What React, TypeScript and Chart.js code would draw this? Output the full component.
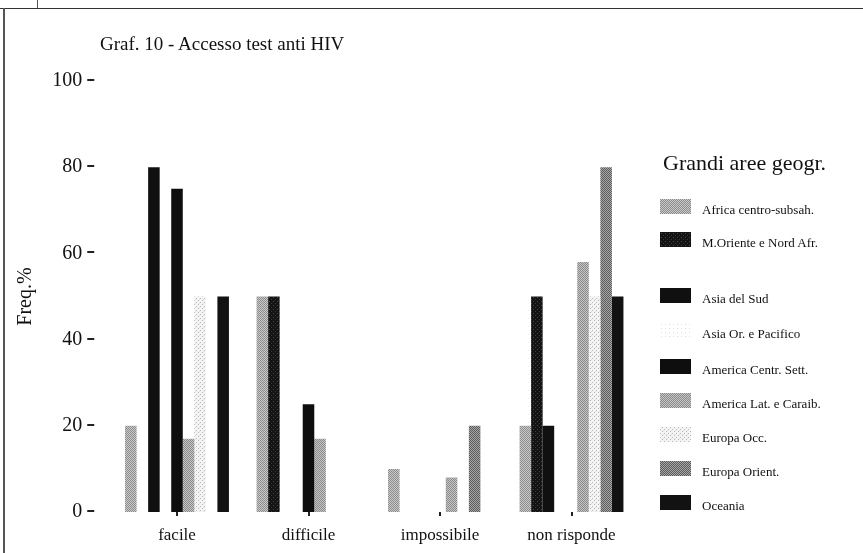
import React, { useEffect, useMemo, useRef } from "react";
import { Chart, registerables } from "chart.js";

Chart.register(...registerables);

const categories = ["facile", "difficile", "impossibile", "non risponde"];
const seriesNames = [
  "Africa centro-subsah.",
  "M.Oriente e Nord Afr.",
  "Asia del Sud",
  "Asia Or. e Pacifico",
  "America Centr. Sett.",
  "America Lat. e Caraib.",
  "Europa Occ.",
  "Europa Orient.",
  "Oceania",
];
const africa = [20, 50, 10, 20];
const mOriente = [0, 50, 0, 50];
const asiaSud = [80, 0, 0, 20];
const asiaOr = [0, 0, 0, 0];
const americaCentr = [75, 25, 0, 0];
const americaLat = [17, 17, 8, 58];
const europaOcc = [50, 0, 0, 50];
const europaOrient = [0, 0, 20, 80];
const oceania = [50, 0, 0, 50];
const seriesData = [africa, mOriente, asiaSud, asiaOr, americaCentr, americaLat, europaOcc, europaOrient, oceania];
const yTicks = [0, 20, 40, 60, 80, 100];

const FONT = "'Liberation Serif', 'DejaVu Serif', serif";

// pixel tiles (grayscale) imitating the dithered fills of the scan
const tiles: string[][][] = [
  [["#8c8c8c", "#cacaca"], ["#cacaca", "#8c8c8c"]],
  [["#141414", "#141414", "#141414", "#141414"], ["#141414", "#4a4a4a", "#141414", "#141414"], ["#141414", "#141414", "#141414", "#141414"], ["#141414", "#141414", "#141414", "#3a3a3a"]],
  [["#101010"]],
  [["#ffffff", "#ffffff", "#ffffff", "#ffffff"], ["#ffffff", "#e0e0e0", "#ffffff", "#ffffff"], ["#ffffff", "#ffffff", "#ffffff", "#ffffff"], ["#ffffff", "#ffffff", "#ffffff", "#ffffff"]],
  [["#0e0e0e"]],
  [["#8a8a8a", "#c6c6c6"], ["#c6c6c6", "#8a8a8a"]],
  [["#f4f4f4", "#f4f4f4", "#b4b4b4", "#f4f4f4"], ["#f4f4f4", "#f4f4f4", "#f4f4f4", "#f4f4f4"], ["#b8b8b8", "#f4f4f4", "#f4f4f4", "#f4f4f4"], ["#f4f4f4", "#f4f4f4", "#f4f4f4", "#e0e0e0"]],
  [["#5c5c5c", "#a6a6a6"], ["#a6a6a6", "#5c5c5c"]],
  [["#121212"]],
];

function tileCanvas(tile: string[][]) {
  const c = document.createElement("canvas");
  c.width = tile[0].length;
  c.height = tile.length;
  const ctx = c.getContext("2d")!;
  tile.forEach((row, y) => row.forEach((col, x) => { ctx.fillStyle = col; ctx.fillRect(x, y, 1, 1); }));
  return c;
}

const legendBaselines = [214, 247, 303, 338, 374, 408, 442, 476, 510];

const tickMarks = {
  id: "tickMarks",
  afterDraw(chart: any) {
    const ctx = chart.ctx;
    const y = chart.scales.y;
    const x = chart.scales.x;
    ctx.save();
    ctx.strokeStyle = "#222";
    ctx.lineWidth = 2;
    y.ticks.forEach((t: any) => {
      const py = Math.round(y.getPixelForValue(t.value)) - 1;
      ctx.beginPath();
      ctx.moveTo(y.right - 24, py);
      ctx.lineTo(y.right - 17, py);
      ctx.stroke();
    });
    categories.forEach((_c, i) => {
      const px = Math.round(x.getPixelForValue(i));
      ctx.beginPath();
      ctx.moveTo(px, x.top);
      ctx.lineTo(px, x.top + 4);
      ctx.stroke();
    });
    ctx.restore();
  },
};

export default function App() {
  const ref = useRef<HTMLCanvasElement>(null);
  const swatchUrls = useMemo(() => tiles.map((t) => tileCanvas(t).toDataURL()), []);

  useEffect(() => {
    const canvas = ref.current!;
    const ctx = canvas.getContext("2d")!;
    const patterns = tiles.map((t) => ctx.createPattern(tileCanvas(t), "repeat")!);
    const chart = new Chart(canvas, {
      type: "bar",
      data: {
        labels: categories,
        datasets: seriesNames.map((name, i) => ({
          label: name,
          data: seriesData[i],
          backgroundColor: patterns[i],
          borderWidth: 0,
          barPercentage: 1,
          categoryPercentage: 0.79,
        })),
      },
      options: {
        responsive: false,
        animation: false,
        devicePixelRatio: 1,
        layout: { padding: { left: 10, top: 81, right: 225.75, bottom: 0 } },
        plugins: { legend: { display: false }, title: { display: false }, tooltip: { enabled: false } },
        scales: {
          x: {
            grid: { display: false, drawTicks: false },
            border: { display: false },
            ticks: { font: { family: FONT, size: 17 }, color: "#111", padding: 13 },
            afterFit: (s: any) => { s.height = 39; },
          },
          y: {
            min: 0,
            max: 100,
            grid: { display: false, drawTicks: false },
            border: { display: false },
            ticks: { stepSize: 20, font: { family: FONT, size: 20 }, color: "#111", padding: 29 },
            afterBuildTicks: (s: any) => { s.ticks = yTicks.map((v) => ({ value: v })); },
            title: { display: true, text: "Freq.%", font: { family: FONT, size: 20 }, color: "#111", padding: { top: 4, bottom: 0 } },
            afterFit: (s: any) => { s.width = 101.25; },
          },
        },
      },
      plugins: [tickMarks],
    } as any);
    return () => chart.destroy();
  }, []);

  return (
    <div style={{ position: "absolute", left: 0, top: 0, width: 863, height: 553, background: "#fff", overflow: "hidden", fontFamily: FONT, color: "#111" }}>
      <canvas ref={ref} width={863} height={553} style={{ position: "absolute", left: 0, top: 0, width: 863, height: 553 }} />
      <div style={{ position: "absolute", left: 0, top: 8, width: 863, height: 1, background: "#333" }} />
      <div style={{ position: "absolute", left: 3, top: 8, width: 2, height: 545, background: "#555" }} />
      <div style={{ position: "absolute", left: 37, top: 0, width: 1, height: 8, background: "#555" }} />
      <div style={{ position: "absolute", left: 100, top: 34, fontSize: 19, lineHeight: "19px", whiteSpace: "nowrap" }}>Graf. 10 - Accesso test anti HIV</div>
      <div style={{ position: "absolute", left: 663, top: 151.6, fontSize: 22, lineHeight: "22px", whiteSpace: "nowrap" }}>Grandi aree geogr.</div>
      {seriesNames.map((name, i) => (
        <React.Fragment key={name}>
          <div style={{ position: "absolute", left: 660, top: legendBaselines[i] - 15, width: 31, height: 15, backgroundImage: `url(${swatchUrls[i]})`, imageRendering: "pixelated" }} />
          <div style={{ position: "absolute", left: 702, top: legendBaselines[i] - 10.9, fontSize: 13, lineHeight: "13px", whiteSpace: "nowrap" }}>{name}</div>
        </React.Fragment>
      ))}
    </div>
  );
}
